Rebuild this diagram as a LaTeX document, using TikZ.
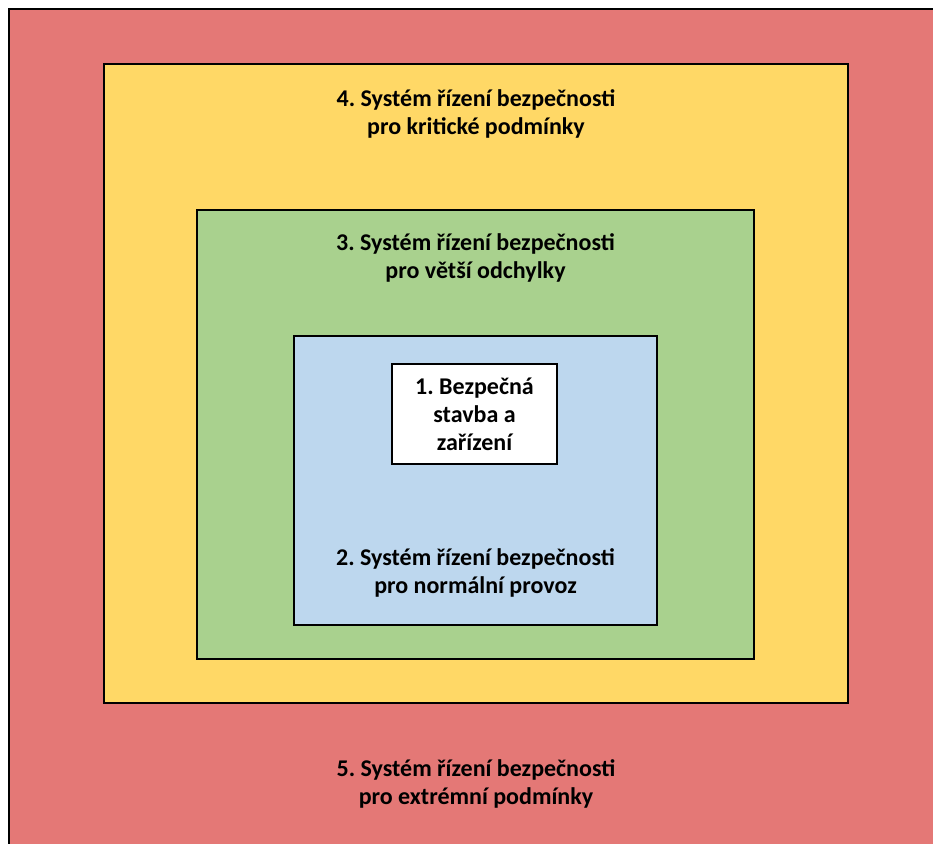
\documentclass[tikz,border=0pt]{standalone}
\usepackage{fontspec}
\setmainfont{Carlito}
\usetikzlibrary{positioning}

\definecolor{extremered}{HTML}{E47876}
\definecolor{criticalyellow}{HTML}{FFD866}
\definecolor{deviationgreen}{HTML}{A9D18E}
\definecolor{normalblue}{HTML}{BDD7EE}

\begin{document}
\frenchspacing
\begin{tikzpicture}[x=1pt,y=1pt]
  \tikzstyle{levelbox}=[draw=black,line width=2.6pt,inner sep=0pt]
  \tikzstyle{leveltext}=[align=center,font=\fontsize{24}{28}\selectfont\bfseries,inner sep=0pt]
  \useasboundingbox (0,0) rectangle (933,843);
  \clip (0,0) rectangle (933,843);
  \node[levelbox,fill=extremered,minimum width=936pt,minimum height=844pt] (extreme) at (477,412) {};
  \node[levelbox,fill=criticalyellow,minimum width=744pt,minimum height=639pt] (critical) at (476,459.5) {};
  \node[levelbox,fill=deviationgreen,minimum width=557pt,minimum height=449pt] (deviation) at (475.5,408.5) {};
  \node[levelbox,fill=normalblue,minimum width=363pt,minimum height=289pt] (normal) at (475.5,362.5) {};
  \node[levelbox,fill=white,minimum width=165pt,minimum height=100pt] (safe) at (474.5,429) {};

  \node[leveltext] at (safe) {1. Bezpečná\\stavba a\\zařízení};
  \node[leveltext,above=53pt of normal.south,anchor=center] (t2) {2. Systém řízení bezpečnosti\\pro normální provoz};
  \node[leveltext,below=49pt of deviation.north,anchor=center] (t3) {3. Systém řízení bezpečnosti\\pro větší odchylky};
  \node[leveltext,below=51pt of critical.north,anchor=center] (t4) {4. Systém řízení bezpečnosti\\pro kritické podmínky};
  \node[leveltext,below=80pt of critical.south,anchor=center] (t5) {5. Systém řízení bezpečnosti\\pro extrémní podmínky};
\end{tikzpicture}
\end{document}
